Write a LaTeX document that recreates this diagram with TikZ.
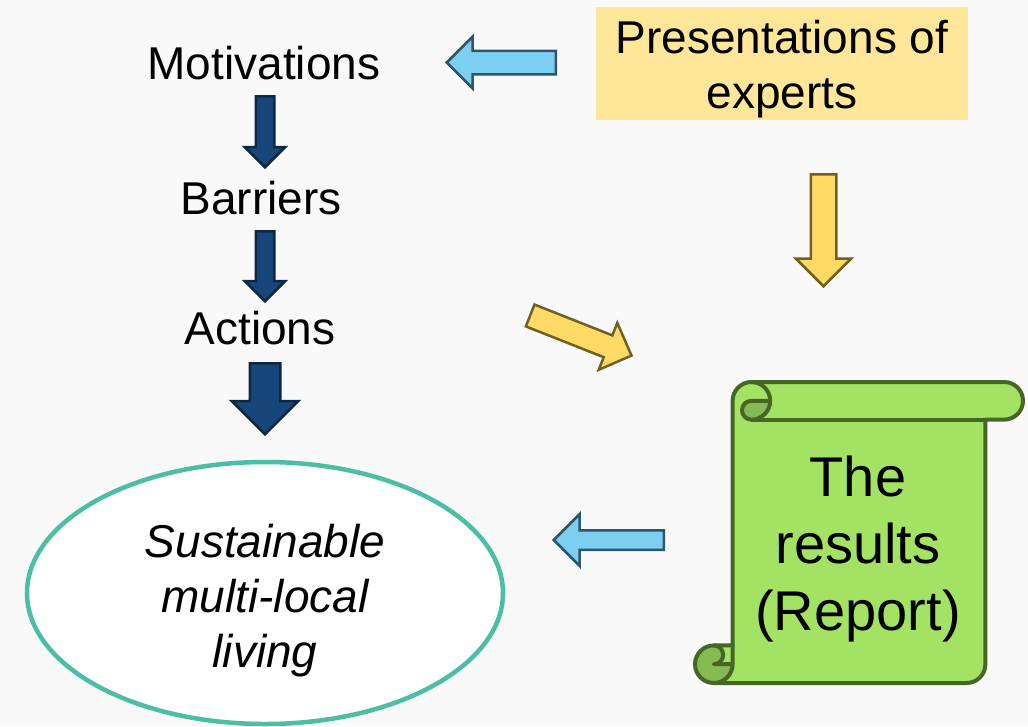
\documentclass[tikz,border=0pt]{standalone}
\usepackage{fontspec}
\setmainfont{Liberation Sans}
\usepackage{tikz}
\usetikzlibrary{shapes.arrows,shapes.geometric}
\definecolor{navyfill}{RGB}{23,70,122}
\definecolor{navyline}{RGB}{14,40,66}
\definecolor{skyfill}{RGB}{125,207,242}
\definecolor{skyline}{RGB}{46,86,106}
\definecolor{goldfill}{RGB}{255,217,102}
\definecolor{goldline}{RGB}{112,96,38}
\definecolor{boxfill}{RGB}{255,230,153}
\definecolor{scrollfill}{RGB}{164,226,100}
\definecolor{scrolldark}{RGB}{134,186,82}
\definecolor{scrollline}{RGB}{70,102,38}
\definecolor{ringline}{RGB}{76,190,164}
\definecolor{bgfill}{RGB}{249,249,249}
\tikzset{Txt/.style={font=\fontsize{46pt}{53pt}\selectfont,inner sep=0pt},
  Multi/.style={Txt,align=center},
  BlkArr/.style n args={3}{single arrow,line width=2.5pt,inner xsep=0pt,inner ysep=#2*0.5pt,
    minimum height=#1pt,minimum width=#3pt,single arrow head extend=(#3-#2)*0.5pt,anchor=tail},
  NavyArr/.style={fill=navyfill,draw=navyline},
  SkyArr/.style={fill=skyfill,draw=skyline},
  GoldArr/.style={fill=goldfill,draw=goldline}}
\newcommand{\sheetoutline}{(37.6,-263.4) -- (37.6,-18.8)
    arc[start angle=180,end angle=90,radius=18.8pt] -- (309.2,0)
    arc[start angle=90,end angle=-90,radius=18.8pt] -- (290.4,-37.6) -- (290.4,-282.2)
    arc[start angle=0,end angle=-90,radius=18.8pt] -- (18.8,-301)
    arc[start angle=-90,end angle=-270,radius=18.8pt] -- cycle}
\begin{document}
\begin{tikzpicture}[x=1pt,y=1pt]
    \fill[bgfill] (0,0) rectangle (1028,-726);
    \useasboundingbox (0,0) rectangle (1028,-726);
    % left column
    \node[Txt,anchor=base] (txt1) at (264,-79) {Motivations};
    \node[Txt,anchor=base] (txt2) at (261,-214) {Barriers};
    \node[Txt,anchor=base] (txt3) at (260,-344) {Actions};
    \node[BlkArr={71}{16}{38},NavyArr,rotate=-90] (down1) at (265,-95) {};
    \node[BlkArr={70}{16}{38},NavyArr,rotate=-90] (down2) at (265,-230) {};
    \node[BlkArr={71}{28}{64},NavyArr,rotate=-90] (down3) at (265,-362) {};
    \node[ellipse,draw=ringline,line width=4.5pt,fill=white,minimum width=476pt,
      minimum height=262pt,inner sep=0pt] (goal) at (265,-593) {};
    \node[Multi,font=\fontsize{46pt}{55pt}\selectfont\itshape] (goaltxt) at (265,-600.5)
      {Sustainable\\multi-local\\living};
    % right column
    \node[fill=boxfill,minimum width=372pt,minimum height=113pt] (expert) at (782,-63.5) {};
    \node[Multi,font=\fontsize{46pt}{55pt}\selectfont] (experttxt) at (782,-69)
      {Presentations of\\experts};
    \begin{scope}[shift={(695,-382)},line width=4pt,line join=round,draw=scrollline]
      \fill[scrollfill] \sheetoutline;
      \fill[scrolldark] (75.2,-18.8) arc[start angle=0,end angle=-90,radius=18.8pt]
        arc[start angle=-90,end angle=-270,radius=9.4pt] -- cycle;
      \fill[scrolldark] (18.8,-263.4) arc[start angle=90,end angle=270,radius=18.8pt]
        arc[start angle=-90,end angle=0,radius=18.8pt] -- (18.8,-282.2)
        arc[start angle=-90,end angle=90,radius=9.4pt] -- cycle;
      \draw \sheetoutline;
      \draw (56.4,0) arc[start angle=90,end angle=-90,radius=18.8pt]
        arc[start angle=-90,end angle=-270,radius=9.4pt] -- (75.2,-18.8);
      \draw (290.4,-37.6) -- (56.4,-37.6);
      \draw (18.8,-263.4) arc[start angle=90,end angle=-90,radius=9.4pt] -- (37.6,-282.2);
      \draw (18.8,-301) arc[start angle=-90,end angle=0,radius=18.8pt] -- (37.6,-263.4);
    \end{scope}
    \node[Multi,font=\fontsize{56pt}{67pt}\selectfont] (report) at (858,-549.5)
      {The\\results\\(Report)};
    % block arrows between the parts
    \node[BlkArr={109}{21}{49},SkyArr,rotate=180] (toleft1) at (557,-62.5) {};
    \node[BlkArr={110}{17}{49},SkyArr,rotate=180] (toleft2) at (665,-540) {};
    \node[BlkArr={112}{23}{53},GoldArr,rotate=-90] (todown) at (823.5,-173) {};
    \node[BlkArr={109}{21}{48},GoldArr,rotate=-21.6] (toright) at (529,-315) {};
\end{tikzpicture}
\end{document}
